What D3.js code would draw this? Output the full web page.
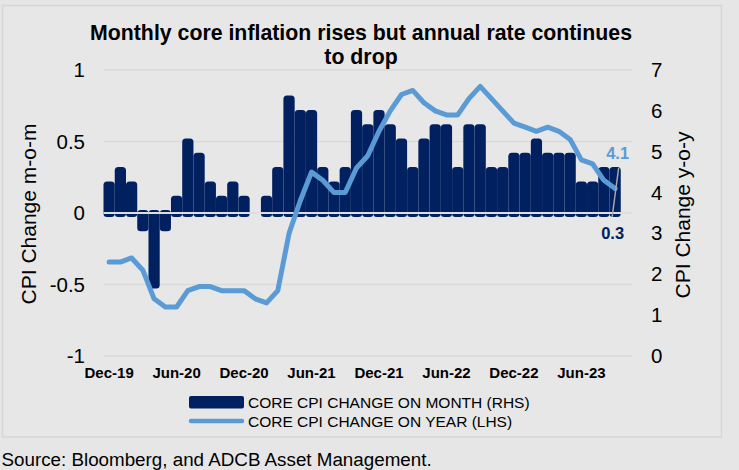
<!DOCTYPE html>
<html>
<head>
<meta charset="utf-8">
<script src="https://cdn.jsdelivr.net/npm/d3@7"></script>
<style>
  html, body { margin: 0; padding: 0; background: #e6e6e6; }
  svg text { font-family: "Liberation Sans", Arial, sans-serif; }
</style>
</head>
<body>
<div id="result"></div>
<script>
// monthly categories, last slot is empty (Oct-23)
const months = [
  "Dec-19", "Jan-20", "Feb-20", "Mar-20", "Apr-20", "May-20", "Jun-20", "Jul-20", "Aug-20", "Sep-20", "Oct-20", "Nov-20",
  "Dec-20", "Jan-21", "Feb-21", "Mar-21", "Apr-21", "May-21", "Jun-21", "Jul-21", "Aug-21", "Sep-21", "Oct-21", "Nov-21",
  "Dec-21", "Jan-22", "Feb-22", "Mar-22", "Apr-22", "May-22", "Jun-22", "Jul-22", "Aug-22", "Sep-22", "Oct-22", "Nov-22",
  "Dec-22", "Jan-23", "Feb-23", "Mar-23", "Apr-23", "May-23", "Jun-23", "Jul-23", "Aug-23", "Sep-23", "Oct-23"
];
const xTickLabels = ["Dec-19", "Jun-20", "Dec-20", "Jun-21", "Dec-21", "Jun-22", "Dec-22", "Jun-23"];

// core CPI change on month (bars, left axis)
const momValues = [
  0.2, 0.3, 0.2, -0.1, -0.5, -0.1, 0.1, 0.5, 0.4, 0.2, 0.1, 0.2,
  0.1, 0.0, 0.1, 0.3, 0.8, 0.7, 0.7, 0.3, 0.2, 0.3, 0.7, 0.6,
  0.7, 0.6, 0.5, 0.3, 0.5, 0.6, 0.6, 0.3, 0.6, 0.6, 0.3, 0.3,
  0.4, 0.4, 0.5, 0.4, 0.4, 0.4, 0.2, 0.2, 0.3, 0.3
];
// core CPI change on year (line, right axis)
const yoyValues = [
  2.3, 2.3, 2.4, 2.1, 1.4, 1.2, 1.2, 1.6, 1.7, 1.7, 1.6, 1.6,
  1.6, 1.4, 1.3, 1.6, 3.0, 3.8, 4.5, 4.3, 4.0, 4.0, 4.6, 4.9,
  5.5, 6.0, 6.4, 6.5, 6.2, 6.0, 5.9, 5.9, 6.3, 6.6, 6.3, 6.0,
  5.7, 5.6, 5.5, 5.6, 5.5, 5.3, 4.8, 4.7, 4.3, 4.1
];
const leftTicks = [-1, -0.5, 0, 0.5, 1];
const rightTicks = [0, 1, 2, 3, 4, 5, 6, 7];

const navy = "#002060", blue = "#5b9bd5";
const width = 739, height = 470;

const svg = d3.select("#result").append("svg")
    .attr("width", width)
    .attr("height", height);

svg.append("rect").attr("width", width).attr("height", height).attr("fill", "#e6e6e6");
svg.append("rect")
    .attr("x", 2.5).attr("y", 5.5).attr("width", 719).attr("height", 431.5)
    .attr("fill", "#e7e7e7").attr("stroke", "#d6d6d6").attr("stroke-width", 1.5);

const plotLeft = 103.5, plotRight = 632, plotTop = 70, plotBottom = 356;

const x = d3.scaleBand().domain(months).range([plotLeft, plotRight]).padding(0);
const yL = d3.scaleLinear().domain([-1, 1]).range([plotBottom, plotTop]);
const yR = d3.scaleLinear().domain([0, 7]).range([plotBottom, plotTop]);

// gridlines (zero line goes on top of bars later)
svg.append("g").selectAll("line")
    .data(leftTicks.filter(d => d !== 0))
    .join("line")
    .attr("x1", plotLeft).attr("x2", plotRight)
    .attr("y1", d => yL(d)).attr("y2", d => yL(d))
    .attr("stroke", "#d9d9d9").attr("stroke-width", 1.5);

// bars (rounded, slightly outset like the original rendering)
const bars = momValues.map((v, i) => ({ m: months[i], v: v })).filter(d => d.v !== 0);
svg.append("g").selectAll("rect")
    .data(bars)
    .join("rect")
    .attr("x", d => x(d.m))
    .attr("width", x.bandwidth())
    .attr("y", d => yL(Math.max(d.v, 0)) - 3)
    .attr("height", d => Math.abs(yL(d.v) - yL(0)) + 7)
    .attr("rx", 3.5)
    .attr("fill", navy);

svg.append("line")
    .attr("x1", plotLeft).attr("x2", plotRight)
    .attr("y1", yL(0)).attr("y2", yL(0))
    .attr("stroke", "#dedede").attr("stroke-width", 2);

// yoy line
svg.append("path")
    .datum(yoyValues)
    .attr("fill", "none")
    .attr("stroke", blue)
    .attr("stroke-width", 5)
    .attr("stroke-linejoin", "round")
    .attr("stroke-linecap", "round")
    .attr("d", d3.line()
        .x((d, i) => x(months[i]) + x.bandwidth() / 2)
        .y(d => yR(d)));

// axes
const gl = svg.append("g")
    .attr("transform", "translate(" + plotLeft + ",0)")
    .call(d3.axisLeft(yL).tickValues(leftTicks).tickFormat(d => String(d)).tickSize(0).tickPadding(18.5));
const gr = svg.append("g")
    .attr("transform", "translate(" + plotRight + ",0)")
    .call(d3.axisRight(yR).tickValues(rightTicks).tickFormat(d => String(d)).tickSize(0).tickPadding(19));
const gx = svg.append("g")
    .attr("transform", "translate(0," + 367 + ")")
    .call(d3.axisBottom(x).tickValues(xTickLabels).tickSize(0).tickPadding(0));

[gl, gr, gx].forEach(g => {
    g.select(".domain").remove();
    g.selectAll("text").attr("fill", "#000").style("font-family", "'Liberation Sans', Arial, sans-serif");
});
gl.selectAll("text").style("font-size", "20.5px");
gr.selectAll("text").style("font-size", "20.5px");
gx.selectAll("text").style("font-size", "15px").style("font-weight", "bold").attr("dy", "0.71em");

// axis titles
svg.append("text")
    .attr("transform", "translate(36,214) rotate(-90)")
    .attr("text-anchor", "middle")
    .style("font-size", "21px")
    .text("CPI Change m-o-m");
svg.append("text")
    .attr("transform", "translate(690,215) rotate(-90)")
    .attr("text-anchor", "middle")
    .style("font-size", "21px")
    .text("CPI Change y-o-y");

// title
const title = svg.append("text")
    .attr("text-anchor", "middle")
    .style("font-size", "21.3px")
    .style("font-weight", "bold");
title.append("tspan").attr("x", 361).attr("y", 39.5).text("Monthly core inflation rises but annual rate continues");
title.append("tspan").attr("x", 361).attr("y", 63.5).text("to drop");

// last-point labels
const lastM = months[momValues.length - 1];
const lastX = x(lastM) + x.bandwidth() / 2;
svg.append("line")
    .attr("x1", lastX + 3.5).attr("y1", 168)
    .attr("x2", lastX - 3).attr("y2", 217)
    .attr("stroke", "#a6a6a6").attr("stroke-width", 1.5);
svg.append("text")
    .attr("x", lastX + 2.5).attr("y", 158.5)
    .attr("text-anchor", "middle")
    .style("font-size", "16.5px").style("font-weight", "bold")
    .attr("fill", blue)
    .text(d3.format(".1f")(yoyValues[yoyValues.length - 1]));
svg.append("text")
    .attr("x", lastX - 2.5).attr("y", 238.5)
    .attr("text-anchor", "middle")
    .style("font-size", "16.5px").style("font-weight", "bold")
    .attr("fill", navy)
    .text(d3.format(".1f")(momValues[momValues.length - 1]));

// legend
const lg = svg.append("g");
lg.append("rect")
    .attr("x", 189).attr("y", 396).attr("width", 55).attr("height", 12.5).attr("rx", 2)
    .attr("fill", navy);
lg.append("text").attr("x", 248).attr("y", 408).style("font-size", "15.5px")
    .text("CORE CPI CHANGE ON MONTH (RHS)");
lg.append("line")
    .attr("x1", 191).attr("x2", 242).attr("y1", 421).attr("y2", 421)
    .attr("stroke", blue).attr("stroke-width", 4.5).attr("stroke-linecap", "round");
lg.append("text").attr("x", 248).attr("y", 426.5).style("font-size", "15.5px")
    .text("CORE CPI CHANGE ON YEAR (LHS)");

// source
svg.append("text")
    .attr("x", 1.5).attr("y", 465.5)
    .style("font-size", "18.8px")
    .text("Source: Bloomberg, and ADCB Asset Management.");
</script>
</body>
</html>
